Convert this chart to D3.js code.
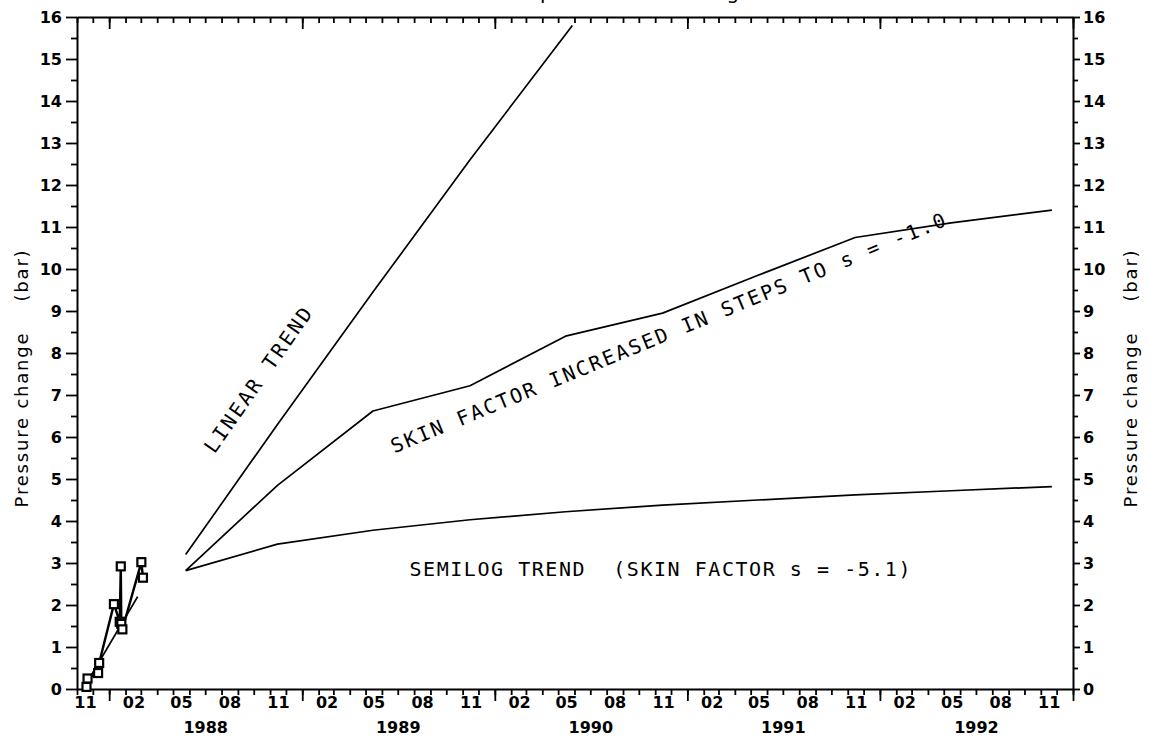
<!DOCTYPE html>
<html>
<head>
<meta charset="utf-8">
<script src="https://cdn.jsdelivr.net/npm/d3@7"></script>
<style>
  html, body { margin: 0; padding: 0; background: #fff; }
  svg { display: block; }
  .tick text { font-family: "DejaVu Sans", sans-serif; font-weight: bold; font-size: 16px; fill: #000; }
</style>
</head>
<body>
<svg id="chart" width="1150" height="747"></svg>
<script>
// ---------- data ----------
const measDates  = ["1987-11-19","1987-11-21","1987-12-11","1987-12-13","1988-01-10","1988-01-21","1988-01-23","1988-01-24","1988-01-26","1988-03-02","1988-03-05"];
const measValues = [0.05, 0.25, 0.38, 0.62, 2.02, 1.60, 2.92, 1.55, 1.42, 3.02, 2.65];

const fitDates  = ["1987-11-22", "1988-02-24"];
const fitValues = [0.20, 2.20];

const linearDates  = ["1988-05-25", "1988-11-15", "1989-05-15", "1989-11-15", "1990-05-28"];
const linearValues = [3.20, 6.30, 9.45, 12.60, 15.80];

const trendDates    = ["1988-05-25","1988-11-15","1989-05-15","1989-11-15","1990-05-15","1990-11-15","1991-05-15","1991-11-15","1992-05-15","1992-11-22"];
const skinValues    = [2.82, 4.85, 6.62, 7.22, 8.40, 8.95, 9.85, 10.75, 11.10, 11.40];
const semilogValues = [2.82, 3.45, 3.78, 4.03, 4.22, 4.38, 4.50, 4.62, 4.72, 4.82];

const yTickValues = [0,1,2,3,4,5,6,7,8,9,10,11,12,13,14,15,16];
const monthLabelMonths = ["11","02","05","08"];
const yearLabels = [1988, 1989, 1990, 1991, 1992];

const titleText = "pressure change";
const yAxisLabel = "Pressure change    (bar)";
const labelLinear = "LINEAR TREND";
const labelSkin = "SKIN FACTOR INCREASED IN STEPS TO s = -1.0";
const labelSemilog = "SEMILOG TREND  (SKIN FACTOR s = -5.1)";

// ---------- layout ----------
const svg = d3.select("#chart");
const parse = d3.timeParse("%Y-%m-%d");
const L = 77, R = 1073, T = 17, B = 689;

const x = d3.scaleTime()
  .domain([new Date(1987, 10, 1), new Date(1993, 0, 1)])
  .range([L, R]);
const y = d3.scaleLinear().domain([0, 16]).range([B, T]);

const months = d3.timeMonth.range(new Date(1987, 10, 1), new Date(1993, 0, 2));
const years = months.filter(d => d.getMonth() === 0);
const labelMonths = months.filter(d => monthLabelMonths.includes(d3.timeFormat("%m")(d)))
  .map(d => d3.timeDay.offset(d, 15));
const yearMids = yearLabels.map(yr => new Date(yr, 6, 1));

// bottom axis
const gB = svg.append("g").attr("transform", `translate(0,${B})`);
gB.call(d3.axisBottom(x).tickValues(months).tickSize(6).tickSizeOuter(0).tickFormat(""));
const gB2 = svg.append("g").attr("transform", `translate(0,${B})`);
gB2.call(d3.axisBottom(x).tickValues(years).tickSize(12).tickSizeOuter(0).tickFormat(""));
gB2.select(".domain").remove();
const gBl = svg.append("g").attr("transform", `translate(0,${B})`);
gBl.call(d3.axisBottom(x).tickValues(labelMonths).tickSize(0).tickPadding(8).tickFormat(d3.timeFormat("%m")));
gBl.select(".domain").remove();
const gBy = svg.append("g").attr("transform", `translate(0,${B})`);
gBy.call(d3.axisBottom(x).tickValues(yearMids).tickSize(0).tickPadding(33).tickFormat(d3.timeFormat("%Y")));
gBy.select(".domain").remove();

// top axis (ticks pointing inward)
const gT = svg.append("g").attr("transform", `translate(0,${T})`);
gT.call(d3.axisBottom(x).tickValues(months).tickSize(6).tickSizeOuter(0).tickFormat(""));
const gT2 = svg.append("g").attr("transform", `translate(0,${T})`);
gT2.call(d3.axisBottom(x).tickValues(years).tickSize(12).tickSizeOuter(0).tickFormat(""));
gT2.select(".domain").remove();

// left axis
const halves = d3.range(0.5, 16, 1);
const gL = svg.append("g").attr("transform", `translate(${L},0)`);
gL.call(d3.axisLeft(y).tickValues(yTickValues).tickSize(11).tickSizeOuter(0).tickPadding(4).tickFormat(d3.format("d")));
const gL2 = svg.append("g").attr("transform", `translate(${L},0)`);
gL2.call(d3.axisLeft(y).tickValues(halves).tickSize(6).tickSizeOuter(0).tickFormat(""));
gL2.select(".domain").remove();

// right axis
const gR = svg.append("g").attr("transform", `translate(${R},0)`);
gR.call(d3.axisRight(y).tickValues(yTickValues).tickSize(7).tickSizeOuter(0).tickPadding(3).tickFormat(d3.format("d")));
const gR2 = svg.append("g").attr("transform", `translate(${R},0)`);
gR2.call(d3.axisRight(y).tickValues(halves).tickSize(5).tickSizeOuter(0).tickFormat(""));
gR2.select(".domain").remove();

svg.selectAll(".domain").attr("stroke", "#000").attr("stroke-width", 2);
svg.selectAll(".tick line").attr("stroke", "#000").attr("stroke-width", 1.8);

// axis titles
function yTitle(cx) {
  svg.append("text")
    .attr("transform", `translate(${cx},378) rotate(-90)`)
    .attr("text-anchor", "middle").attr("dy", "0.35em")
    .style("white-space", "pre")
    .style("font-family", "DejaVu Sans, sans-serif").style("font-size", "18px")
    .style("letter-spacing", "1.8px")
    .text(yAxisLabel);
}
yTitle(22);
yTitle(1131);

// title (cut off at the top edge in the reference)
svg.append("text")
  .attr("x", 540).attr("y", -1)
  .attr("textLength", 215).attr("lengthAdjust", "spacing")
  .style("font-family", "DejaVu Sans, sans-serif").style("font-size", "20px")
  .text(titleText);

// ---------- lines ----------
const line = d3.line().x(d => x(d[0])).y(d => y(d[1]));
function zip(ds, vs) { return ds.map((d, i) => [parse(d), vs[i]]); }

const lineStyle = sel => sel.attr("fill", "none").attr("stroke", "#000").attr("stroke-width", 1.7).attr("stroke-linejoin", "round");

svg.append("path").datum(zip(linearDates, linearValues)).attr("d", line).call(lineStyle);
svg.append("path").datum(zip(trendDates, skinValues)).attr("d", line).call(lineStyle);
svg.append("path").datum(zip(trendDates, semilogValues)).attr("d", line).call(lineStyle);

svg.append("path").datum(zip(fitDates, fitValues)).attr("d", line).call(lineStyle).attr("stroke-width", 1.8);
const meas = zip(measDates, measValues);
svg.append("path").datum(meas).attr("d", line).call(lineStyle).attr("stroke-width", 2.4);
svg.selectAll("rect.pt").data(meas).join("rect")
  .attr("class", "pt")
  .attr("x", d => x(d[0]) - 4).attr("y", d => y(d[1]) - 4)
  .attr("width", 8).attr("height", 8)
  .attr("fill", "#fff").attr("stroke", "#000").attr("stroke-width", 2.2);

// ---------- annotations ----------
function annot(txt, cx, cy, angle, len, size) {
  svg.append("text")
    .attr("transform", `translate(${cx},${cy}) rotate(${angle})`)
    .attr("text-anchor", "middle").attr("dy", "0.35em")
    .attr("textLength", len).attr("lengthAdjust", "spacing")
    .style("white-space", "pre")
    .style("font-family", "DejaVu Sans Mono, monospace").style("font-size", size + "px")
    .text(txt);
}
annot(labelLinear, 258, 380, -55, 172, 20);
annot(labelSkin, 668, 333, -22.4, 598, 20);
annot(labelSemilog, 660, 569, 0, 501, 20);
</script>
</body>
</html>
